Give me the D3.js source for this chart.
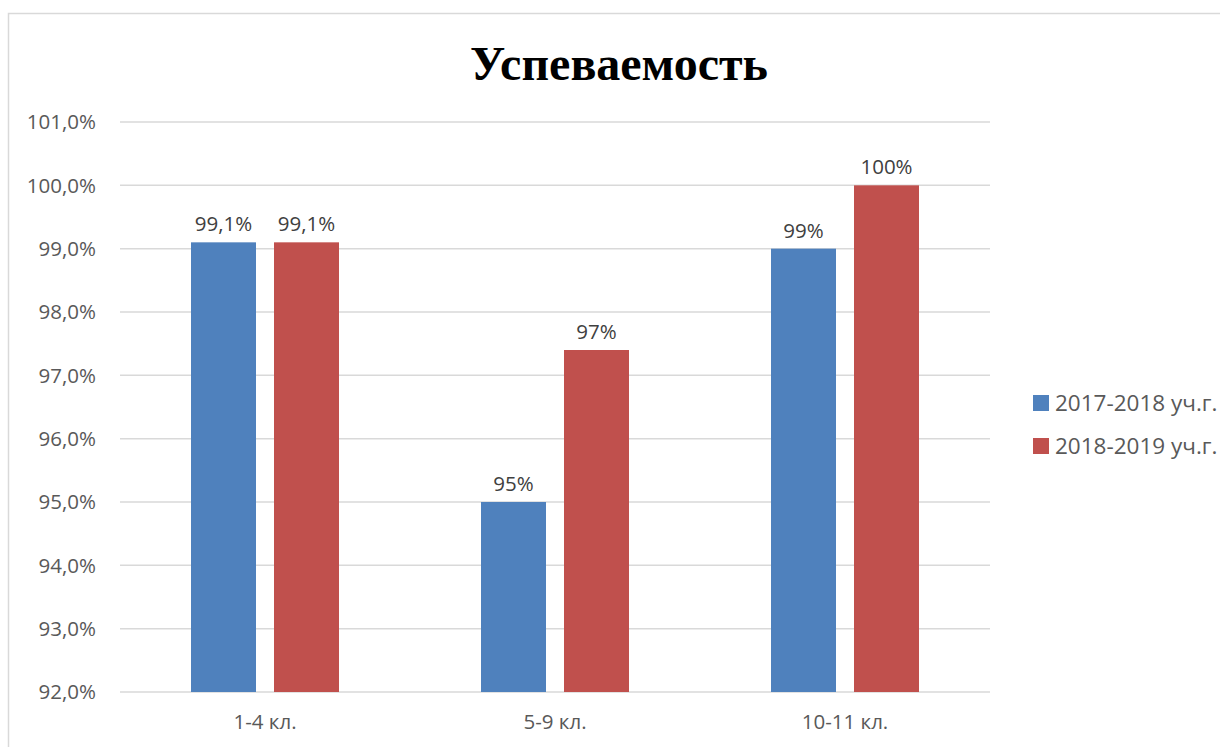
<!DOCTYPE html>
<html><head><meta charset="utf-8">
<script src="https://cdn.jsdelivr.net/npm/d3@7"></script>
<style>body{margin:0;background:#fff}</style>
</head><body>
<svg id="c" width="1220" height="747"></svg>
<script>
const categories = ["1-4 кл.", "5-9 кл.", "10-11 кл."];
const seriesNames = ["2017-2018 уч.г.", "2018-2019 уч.г."];
const values2017 = [99.1, 95.0, 99.0];
const values2018 = [99.1, 97.4, 100.0];
const labels2017 = ["99,1%", "95%", "99%"];
const labels2018 = ["99,1%", "97%", "100%"];
const yTicks = [92, 93, 94, 95, 96, 97, 98, 99, 100, 101];
const colors = ["#4F81BD", "#C0504D"];

const svg = d3.select("#c");
const font = "'Open Sans', 'Liberation Sans', sans-serif";
svg.append("rect").attr("x", 8.5).attr("y", 13.5).attr("width", 1240).attr("height", 760)
  .attr("fill", "#fff").attr("stroke", "#D9D9D9").attr("stroke-width", 1.5);

const plot = {left: 120, right: 990, top: 122, bottom: 692};
const y = d3.scaleLinear().domain([92, 101]).range([plot.bottom, plot.top]);
const x0 = d3.scaleBand().domain(categories).range([plot.left, plot.right]);
const x1 = d3.scaleBand().domain([0, 1]).range([71, 219]).paddingInner(0.217);

svg.append("g").selectAll("line").data(yTicks).join("line")
  .attr("x1", plot.left).attr("x2", plot.right)
  .attr("y1", d => y(d)).attr("y2", d => y(d))
  .attr("stroke", "#D9D9D9").attr("stroke-width", 1.5);

svg.append("g").selectAll("text").data(yTicks).join("text")
  .attr("x", 96).attr("y", d => y(d)).attr("dy", "0.35em")
  .attr("text-anchor", "end").attr("font-family", font).attr("font-size", 20.5)
  .attr("fill", "#595959").text(d => d.toFixed(1).replace(".", ",") + "%");

const seriesVals = [values2017, values2018];
const seriesLabels = [labels2017, labels2018];
const bars = [];
categories.forEach((c, i) => {
  [0, 1].forEach(s => bars.push({c, s, v: seriesVals[s][i], l: seriesLabels[s][i]}));
});

svg.append("g").selectAll("rect").data(bars).join("rect")
  .attr("x", d => x0(d.c) + x1(d.s)).attr("width", x1.bandwidth())
  .attr("y", d => y(d.v)).attr("height", d => y(92) - y(d.v))
  .attr("fill", d => colors[d.s]);

svg.append("g").selectAll("text").data(bars).join("text")
  .attr("x", d => x0(d.c) + x1(d.s) + x1.bandwidth() / 2).attr("y", d => y(d.v) - 11)
  .attr("text-anchor", "middle").attr("font-family", font).attr("font-size", 20.5)
  .attr("fill", "#404040").text(d => d.l);

svg.append("g").selectAll("text").data(categories).join("text")
  .attr("x", d => x0(d) + x0.bandwidth() / 2).attr("y", 722).attr("dy", "0.35em")
  .attr("text-anchor", "middle").attr("font-family", font).attr("font-size", 20.5)
  .attr("fill", "#595959").text(d => d);

svg.append("text").attr("x", 619).attr("y", 80).attr("text-anchor", "middle")
  .attr("font-family", "'Liberation Serif', 'Times New Roman', serif").attr("font-weight", "bold")
  .attr("font-size", 48).attr("fill", "#000").text("Успеваемость");

const lg = svg.append("g").selectAll("g").data(seriesNames).join("g")
  .attr("transform", (d, i) => `translate(1033, ${403 + i * 43})`);
lg.append("rect").attr("x", 0).attr("y", -8).attr("width", 16).attr("height", 16).attr("fill", (d, i) => colors[i]);
lg.append("text").attr("x", 22).attr("y", 0).attr("dy", "0.35em").attr("font-family", font)
  .attr("font-size", 22.5).attr("fill", "#595959").text(d => d);
</script>
</body></html>
